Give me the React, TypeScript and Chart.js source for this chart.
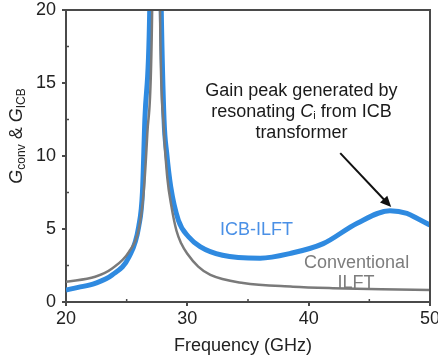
import React, { useEffect, useRef } from "react";
import { Chart, registerables } from "chart.js";

Chart.register(...registerables);

// ICB-ILFT gain vs frequency
const icbFreq = [20, 21, 22.4, 23.8, 25.2, 26.0, 26.3, 26.5, 26.9, 27.1, 27.35, 27.6, 27.85, 28.08, 28.3, 28.63, 29.26, 30.1, 31.05, 32.9, 36, 38.5, 41.2, 44, 46.7, 48.1, 49, 50];
const icbGain = [0.82, 1.0, 1.28, 1.85, 3.1, 5.2, 7.5, 12.5, 20, 35, 60, 35, 20, 12.5, 10.2, 7.9, 5.6, 4.47, 3.8, 3.2, 3.0, 3.33, 4.0, 5.4, 6.25, 6.07, 5.7, 5.27];

// Conventional ILFT gain vs frequency
const convFreq = [20, 22.4, 23.8, 25.2, 26.0, 26.4, 26.7, 27.1, 27.45, 27.75, 28.05, 28.35, 28.7, 29.1, 29.5, 30.0, 30.9, 31.9, 34.6, 38.7, 42, 46, 50];
const convGain = [1.39, 1.73, 2.3, 3.45, 5.0, 7.5, 11.5, 20, 60, 20, 12, 8.5, 6.5, 4.9, 4.0, 3.3, 2.42, 1.85, 1.3, 1.05, 0.95, 0.88, 0.82];

const xTickValues = [20, 30, 40, 50];
const yTickValues = [0, 5, 10, 15, 20];
const xMinorTicks = [25, 35, 45];
const yMinorTicks = [2.5, 7.5, 12.5, 17.5];

const FONT = '"Liberation Sans", Arial, sans-serif';
const AXIS = "#4a4a4a";
const BLUE = "#2f8ae0";
const GRAY = "#7a7a7a";

function drawRich(ctx: CanvasRenderingContext2D, parts: { t: string; size: number; italic?: boolean; dy?: number }[], cx: number, cy: number) {
  let total = 0;
  for (const p of parts) {
    ctx.font = `${p.italic ? "italic " : ""}${p.size}px ${FONT}`;
    total += ctx.measureText(p.t).width;
  }
  let x = cx - total / 2;
  ctx.textAlign = "left";
  ctx.textBaseline = "middle";
  for (const p of parts) {
    ctx.font = `${p.italic ? "italic " : ""}${p.size}px ${FONT}`;
    ctx.fillText(p.t, x, cy + (p.dy || 0));
    x += ctx.measureText(p.t).width;
  }
}

const decorPlugin = {
  id: "decor",
  beforeDatasetsDraw(chart: any) {
    const { ctx, scales } = chart;
    const xs = scales.x, ys = scales.y;
    ctx.save();
    ctx.fillStyle = "#4a90e6";
    ctx.font = `18px ${FONT}`;
    ctx.textAlign = "center";
    ctx.textBaseline = "middle";
    ctx.fillText("ICB-ILFT", xs.getPixelForValue(35.7), ys.getPixelForValue(4.9));
    ctx.fillStyle = "#7d7d7d";
    ctx.fillText("Conventional", xs.getPixelForValue(43.95), ys.getPixelForValue(2.64));
    ctx.fillText("ILFT", xs.getPixelForValue(43.9), ys.getPixelForValue(1.3));
    ctx.restore();
  },
  afterDraw(chart: any) {
    const { ctx, chartArea: a, scales } = chart;
    const xs = scales.x, ys = scales.y;
    ctx.save();
    // frame top & right
    ctx.strokeStyle = AXIS;
    ctx.lineWidth = 2;
    ctx.beginPath();
    ctx.moveTo(a.left, a.top);
    ctx.lineTo(a.right, a.top);
    ctx.lineTo(a.right, a.bottom);
    ctx.stroke();
    // minor ticks
    ctx.lineWidth = 1.5;
    ctx.beginPath();
    for (const v of xMinorTicks) {
      const px = xs.getPixelForValue(v);
      ctx.moveTo(px, a.bottom);
      ctx.lineTo(px, a.bottom - 3);
    }
    for (const v of yMinorTicks) {
      const py = ys.getPixelForValue(v);
      ctx.moveTo(a.left, py);
      ctx.lineTo(a.left + 3, py);
    }
    ctx.stroke();

    // annotation text
    ctx.fillStyle = "#1a1a1a";
    const cx = xs.getPixelForValue(39.4);
    drawRich(ctx, [{ t: "Gain peak generated by", size: 18 }], cx, ys.getPixelForValue(14.45));
    drawRich(ctx, [
      { t: "resonating ", size: 18 },
      { t: "C", size: 18, italic: true },
      { t: "i", size: 11, dy: 4 },
      { t: " from ICB", size: 18 },
    ], cx, ys.getPixelForValue(13.0));
    drawRich(ctx, [{ t: "transformer", size: 18 }], cx, ys.getPixelForValue(11.6));

    // arrow
    const x0 = xs.getPixelForValue(42.6), y0 = ys.getPixelForValue(10.2);
    const x1 = xs.getPixelForValue(46.8), y1 = ys.getPixelForValue(6.5);
    const ang = Math.atan2(y1 - y0, x1 - x0);
    const hl = 11, hw = 5;
    ctx.strokeStyle = "#111";
    ctx.fillStyle = "#111";
    ctx.lineWidth = 2;
    ctx.beginPath();
    ctx.moveTo(x0, y0);
    ctx.lineTo(x1 - Math.cos(ang) * hl * 0.8, y1 - Math.sin(ang) * hl * 0.8);
    ctx.stroke();
    ctx.beginPath();
    ctx.moveTo(x1, y1);
    ctx.lineTo(x1 - Math.cos(ang) * hl - Math.sin(ang) * hw, y1 - Math.sin(ang) * hl + Math.cos(ang) * hw);
    ctx.lineTo(x1 - Math.cos(ang) * hl + Math.sin(ang) * hw, y1 - Math.sin(ang) * hl - Math.cos(ang) * hw);
    ctx.closePath();
    ctx.fill();

    // axis titles
    ctx.fillStyle = "#222";
    drawRich(ctx, [{ t: "Frequency (GHz)", size: 18 }], 243, 346);
    ctx.translate(17, 136);
    ctx.rotate(-Math.PI / 2);
    drawRich(ctx, [
      { t: "G", size: 18, italic: true },
      { t: "conv", size: 12, dy: 5 },
      { t: " & ", size: 18 },
      { t: "G", size: 18, italic: true },
      { t: "ICB", size: 12, dy: 5 },
    ], 0, 0);
    ctx.restore();
  },
};

export default function App() {
  const ref = useRef<HTMLCanvasElement>(null);
  useEffect(() => {
    document.body.style.margin = "0";
    const chart = new Chart(ref.current!, {
      type: "line",
      data: {
        datasets: [
          {
            label: "Conventional ILFT",
            data: convFreq.map((f, i) => ({ x: f, y: convGain[i] })),
            borderColor: GRAY,
            borderWidth: 2.5,
            pointRadius: 0,
            cubicInterpolationMode: "monotone",
            fill: false,
          },
          {
            label: "ICB-ILFT",
            data: icbFreq.map((f, i) => ({ x: f, y: icbGain[i] })),
            borderColor: BLUE,
            borderWidth: 5,
            pointRadius: 0,
            cubicInterpolationMode: "monotone",
            fill: false,
          },
        ],
      },
      options: {
        responsive: false,
        animation: false,
        layout: { padding: { left: 0, right: 8, top: 10, bottom: 0 } },
        plugins: { legend: { display: false }, tooltip: { enabled: false } },
        scales: {
          x: {
            type: "linear",
            min: 20,
            max: 50,
            afterBuildTicks: (s: any) => { s.ticks = xTickValues.map((v) => ({ value: v })); },
            afterFit: (s: any) => { s.height = 56; s.paddingLeft = 0; s.paddingRight = 0; },
            ticks: { font: { size: 18, family: FONT }, color: "#222", padding: 2, maxRotation: 0 },
            grid: { drawOnChartArea: false, tickLength: 4, color: AXIS, lineWidth: 2 },
            border: { color: AXIS, width: 2 },
          },
          y: {
            type: "linear",
            min: 0,
            max: 20,
            afterBuildTicks: (s: any) => { s.ticks = yTickValues.map((v) => ({ value: v })); },
            afterFit: (s: any) => { s.width = 66; s.paddingTop = 0; s.paddingBottom = 0; },
            ticks: { font: { size: 18, family: FONT }, color: "#222", padding: 6 },
            grid: { drawOnChartArea: false, tickLength: 4, color: AXIS, lineWidth: 2 },
            border: { color: AXIS, width: 2 },
          },
        },
      },
      plugins: [decorPlugin],
    } as any);
    return () => chart.destroy();
  }, []);
  return <canvas ref={ref} width={438} height={358} style={{ display: "block" }} />;
}
